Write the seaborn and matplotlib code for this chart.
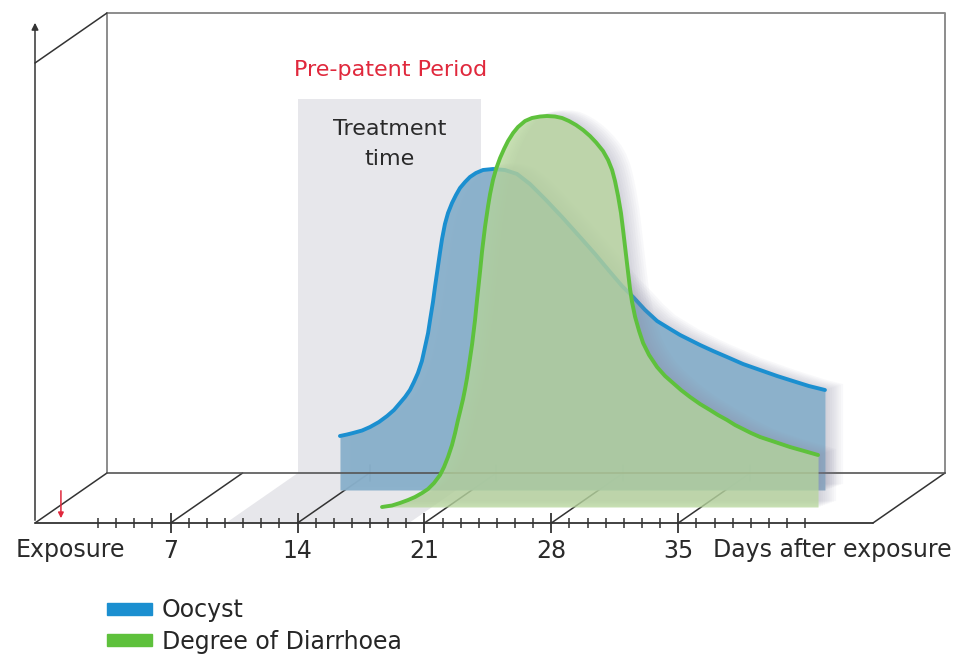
import matplotlib
matplotlib.use("Agg")
import matplotlib.pyplot as plt
import matplotlib.transforms as mtrans
from matplotlib.patches import Patch, Polygon
import seaborn as sns

# values: days after exposure / relative level
blue_day = [13.72, 14.11, 14.44, 14.94, 15.38, 15.87, 16.32, 16.70, 17.03, 17.31,
            17.58, 17.80, 18.02, 18.24, 18.41, 18.58, 18.69, 18.85, 18.96, 19.08,
            19.24, 19.35, 19.51, 19.68, 19.90, 20.12, 20.34, 20.62, 20.89, 21.22,
            21.61, 22.16, 22.82, 23.49, 24.20, 25.03, 25.97, 26.96, 27.79, 28.62,
            29.28, 29.89, 30.55, 31.21, 31.93, 32.48, 33.03, 33.58, 34.30, 35.07,
            35.95, 36.89, 37.83, 38.70, 39.58, 40.47]
blue_level = [10.8, 11.1, 11.4, 11.9, 12.6, 13.6, 14.8, 16.0, 17.4, 18.6,
              20.0, 21.6, 23.4, 25.8, 28.6, 31.4, 34.0, 37.6, 40.6, 43.6,
              47.6, 50.2, 53.2, 55.4, 57.4, 59.0, 60.4, 61.6, 62.6, 63.4,
              64.0, 64.2, 64.0, 63.2, 61.2, 58.2, 54.6, 50.6, 47.2, 43.6,
              40.8, 38.6, 36.0, 33.8, 32.2, 31.0, 30.0, 29.0, 27.8, 26.6,
              25.2, 24.0, 22.8, 21.8, 20.8, 20.0]

green_day = [17.39, 17.94, 18.38, 18.83, 19.21, 19.60, 19.93, 20.26, 20.59, 20.81,
             21.03, 21.25, 21.42, 21.58, 21.69, 21.86, 21.97, 22.08, 22.19, 22.36,
             22.52, 22.63, 22.80, 22.91, 23.07, 23.24, 23.35, 23.51, 23.68, 23.90,
             24.12, 24.34, 24.62, 24.89, 25.28, 25.66, 26.11, 26.49, 26.93, 27.32,
             27.70, 28.09, 28.48, 28.86, 29.20, 29.58, 29.86, 30.08, 30.24, 30.41,
             30.57, 30.68, 30.79, 30.90, 31.07, 31.18, 31.35, 31.57, 31.79, 32.12,
             32.56, 33.00, 33.44, 33.88, 34.38, 34.93, 35.48, 35.92, 36.42, 36.86,
             37.30, 37.74, 38.24, 39.07, 39.89, 40.67, 41.44]
green_level = [0.0, 0.3, 0.8, 1.4, 2.0, 2.8, 3.6, 4.8, 6.4, 8.0,
               10.0, 12.4, 14.8, 17.4, 19.0, 21.6, 23.6, 25.8, 28.4, 32.6,
               37.4, 41.4, 47.2, 51.2, 56.0, 60.2, 62.6, 65.4, 67.6, 69.8,
               71.6, 73.2, 74.8, 76.0, 77.2, 77.8, 78.1, 78.2, 78.1, 77.8,
               77.2, 76.4, 75.4, 74.2, 72.9, 71.2, 69.4, 67.4, 65.2, 62.2,
               58.8, 55.6, 52.2, 48.8, 43.6, 41.0, 38.0, 35.2, 32.8, 30.4,
               28.0, 26.2, 24.8, 23.4, 22.0, 20.6, 19.4, 18.4, 17.4, 16.4,
               15.6, 14.8, 14.0, 13.0, 12.0, 11.2, 10.4]

major_days = [7, 14, 21, 28, 35]
major_labels = ["7", "14", "21", "28", "35"]
minor_days = [3, 4, 5, 6, 8, 9, 10, 11, 12, 13, 15, 16, 17, 18, 19, 20,
              22, 23, 24, 25, 26, 27, 29, 30, 31, 32, 33, 34, 36, 37, 38, 39, 40, 41, 42]
treatment = [10.05, 20.15]
treatment_top = 74.8
exposure_day = 0.95

# pixel scale of the drawing
DPI = 100
PX_DAY = 18.13
PX_LEVEL = 5.0
DX, DY = 72, 50                      # depth of the box in pixels
BOX_L, BOX_R, BOX_TOP = -0.48, 45.74, 92.0
BLUE_DEPTH, GREEN_DEPTH = 0.66, 0.32

sns.set_style("white")
plt.rcParams["font.family"] = ["DejaVu Sans"]

fig = plt.figure(figsize=(9.66, 6.6), dpi=DPI)
ax = fig.add_axes([0, 0, 1, 1])
ax.set_xlim(-43.7 / PX_DAY, (966 - 43.7) / PX_DAY)
ax.set_ylim(-137 / PX_LEVEL, 523 / PX_LEVEL)
ax.axis("off")


def plane(depth, sx=0.0, sy=0.0):
    return ax.transData + mtrans.ScaledTranslation((depth * DX + sx) / DPI,
                                                   (depth * DY + sy) / DPI,
                                                   fig.dpi_scale_trans)


ddx, ddy = DX / PX_DAY, DY / PX_LEVEL
box_c = "#8c8c8c"
ink = "#333333"

# treatment window, back wall + floor
ax.fill_between(treatment, 0, treatment_top, transform=plane(1), color="#e7e7eb", lw=0, zorder=1)
ax.add_patch(Polygon([(treatment[0], 0), (treatment[1], 0),
                      (treatment[1] + ddx, ddy), (treatment[0] + ddx, ddy)],
                     closed=True, color="#e7e7eb", lw=0, zorder=1))

# box
ax.plot([BOX_L, BOX_L], [0, BOX_TOP], transform=plane(1), color=box_c, lw=1.4, zorder=2)
ax.plot([BOX_L, BOX_R, BOX_R], [BOX_TOP, BOX_TOP, 0], transform=plane(1), color=box_c, lw=1.4, zorder=2)
ax.plot([BOX_L, BOX_L + ddx], [BOX_TOP, BOX_TOP + ddy], color=ink, lw=1.1, zorder=2)
for d in [BOX_L] + major_days + [BOX_R]:
    ax.plot([d, d + ddx], [0, ddy], color=ink, lw=1.1, zorder=2)
for d in major_days[1:]:
    ax.plot([d, d], [-1.6, 1.6], transform=plane(1), color=ink, lw=1.1, zorder=2)

# oocyst series
for k in range(1, 9):
    ax.fill_between(blue_day, blue_level, 0, transform=plane(BLUE_DEPTH, 2.2 * k, 0.8 * k),
                    color="#8e8ea6", alpha=0.055, lw=0, zorder=3)
ax.fill_between(blue_day, blue_level, 0, transform=plane(BLUE_DEPTH),
                color="#88b0cb", alpha=0.95, lw=0, zorder=4)
ax.plot([BOX_L, BOX_R], [0, 0], transform=plane(1), color="#555555", lw=1.2, zorder=4.5)
sns.lineplot(x=blue_day, y=blue_level, ax=ax, color="#1b8fd0", lw=2.8, sort=False,
             solid_joinstyle="round", transform=plane(BLUE_DEPTH), zorder=5)

# diarrhoea series
for k in range(1, 9):
    ax.fill_between(green_day, green_level, 0, transform=plane(GREEN_DEPTH, 2.2 * k, 0.8 * k),
                    color="#8e8ea6", alpha=0.055, lw=0, zorder=6)
ax.fill_between(green_day, green_level, 0, transform=plane(GREEN_DEPTH),
                color="#b6d69a", alpha=0.75, lw=0, zorder=7)
sns.lineplot(x=green_day, y=green_level, ax=ax, color="#5ec13c", lw=2.8, sort=False,
             solid_joinstyle="round", transform=plane(GREEN_DEPTH), zorder=8)

# front axis
ax.plot([BOX_L, BOX_R], [0, 0], color=ink, lw=1.3, zorder=9)
ax.vlines(minor_days, -1, 1, color=ink, lw=1.1, zorder=9)
ax.vlines(major_days, -2, 2, color=ink, lw=1.3, zorder=9)
ax.annotate("", xy=(BOX_L, 100.6), xytext=(BOX_L, 0),
            arrowprops=dict(arrowstyle="-|>", color=ink, lw=1.1, mutation_scale=10), zorder=9)
ax.annotate("", xy=(exposure_day, 0.4), xytext=(exposure_day, 7),
            arrowprops=dict(arrowstyle="-|>", color="#e0283c", lw=1.1, mutation_scale=8), zorder=9)

# labels
lab = dict(fontsize=17, color="#2a2a2a", va="center")
ax.text(4.5, -5.5, "Exposure", ha="right", **lab)
for d, t in zip(major_days, major_labels):
    ax.text(d, -5.5, t, ha="center", **lab)
ax.text(36.9, -5.5, "Days after exposure", ha="left", **lab)

ax.text(19.15, 90.6, "Pre-patent Period", ha="center", va="center", fontsize=16, color="#e0283c")
ax.text(19.1, 75.8, "Treatment\ntime", ha="center", va="center", fontsize=16,
        color="#2a2a2a", linespacing=1.6, zorder=9)

handles = [Patch(color="#1b8fd0", label="Oocyst"), Patch(color="#5ec13c", label="Degree of Diarrhoea")]
ax.legend(handles=handles, loc="upper left", bbox_to_anchor=(98 / 966, 1 - 589 / 660),
          frameon=False, fontsize=17, handlelength=1.9, handleheight=0.35,
          handletextpad=0.4, labelspacing=0.3, borderaxespad=0)

fig.savefig("out.png", dpi=DPI)
